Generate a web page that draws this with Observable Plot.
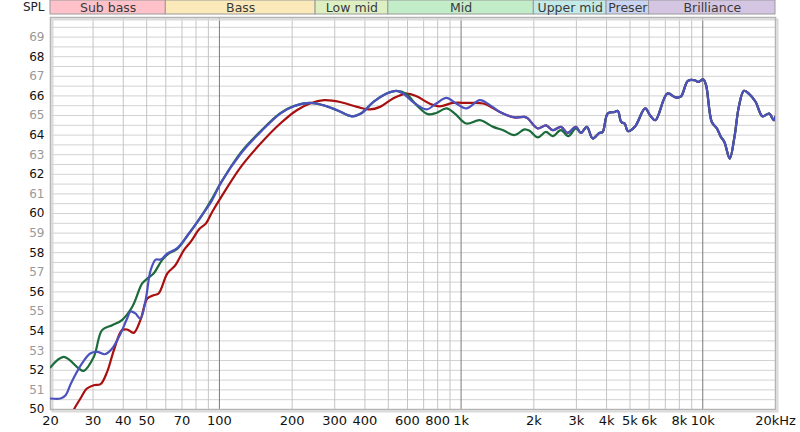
<!DOCTYPE html>
<html><head><meta charset="utf-8">
<script src="https://cdn.jsdelivr.net/npm/d3@7"></script>
<script src="https://cdn.jsdelivr.net/npm/@observablehq/plot@0.6"></script>
<style>
body{margin:0;background:#fff;font-family:"DejaVu Sans",sans-serif;}
#wrap{width:800px;height:432px;}
svg{display:block}
</style></head><body><div id="wrap"></div>
<script>
// Frequency bands (header)
const bandNames = ["Sub bass","Bass","Low mid","Mid","Upper mid","Preser","Brilliance"];
const bandLo = [20,60,250,500,2000,4000,6000];
const bandHi = [60,250,500,2000,4000,6000,20000];
const bandColors = ["#ffc2ca","#fbe9b9","#def0c2","#c3ecc9","#c3e9e8","#c9d3f2","#d4c6e2"];

// Axis ticks
const xTicks = [20,30,40,50,70,100,200,300,400,600,800,1000,2000,3000,4000,5000,6000,8000,10000,20000];
const xTickLabels = ["20","30","40","50","70","100","200","300","400","600","800","1k","2k","3k","4k","5k","6k","8k","10k","20kHz"];
const yTicksEven = [50,52,54,56,58,60,62,64,66,68];
const yTicksOdd = [51,53,55,57,59,61,63,65,67,69];

// Red series (low/mid part)
const freqRed = [24.3,25.0,26.6,28.3,30.2,32.2,34.3,36.6,39.5,41.5,44.2,47.1,50.3,53.4,56,60.9,65.7,71.3,76.0,82.9,87.9,93.3,101.8,122.7,148,178.6,209,237,271,316,371,420,462,523,594,654,740,815,926,1051,1234];
const dbRed   = [49.6,50.0,50.56,51.07,51.24,51.29,51.92,53.03,54.05,54.08,53.91,54.56,55.66,55.83,55.92,56.94,57.36,58.13,58.55,59.23,59.49,60.08,60.85,62.38,63.57,64.59,65.27,65.61,65.78,65.69,65.44,65.31,65.44,65.87,66.12,65.98,65.61,65.47,65.64,65.64,65.61];

// Green series (low/mid part)
const freqGreen = [20,22.7,26.2,27.4,30.2,32.7,36,39.5,43.6,47.9,50.3,53.4,57.9,61.8,67.1,73.9,83.9,92.5,101.8,122.7,148,178.6,203,237,268,307,353,385,434,492,540,594,654,729,789,869,942,1051,1196,1358,1493,1664,1829,1921,2076,2245,2393,2589,2780,2987];
const dbGreen   = [52.15,52.68,52.09,51.97,52.68,54.05,54.3,54.56,55.24,56.43,56.68,56.94,57.62,57.96,58.21,58.89,59.83,60.68,61.6,63.12,64.2,65.12,65.48,65.64,65.53,65.27,64.96,65.1,65.69,66.12,66.26,66.1,65.53,65.07,65.13,65.36,65.1,64.59,64.76,64.42,64.25,64.0,64.29,64.22,63.88,64.16,63.95,64.25,63.95,64.34];

// Blue series (low/mid part)
const freqBlue = [20,22,23.1,24.3,27,29.2,31.2,33.6,36,39,41.5,42.9,44.9,47.1,49.5,51.9,54.5,57.1,60.9,67.1,73.9,83.9,92.5,101.8,122.7,148,178.6,203,237,268,307,353,385,434,492,540,576,633,718,789,869,955,1051,1196,1316];
const dbBlue   = [50.56,50.56,50.73,51.33,52.35,52.86,52.94,52.82,53.11,53.88,54.64,55.0,54.9,54.64,55.58,57.1,57.65,57.65,57.96,58.25,58.89,59.85,60.6,61.6,63.06,64.16,65.1,65.47,65.64,65.53,65.27,64.96,65.1,65.69,66.12,66.26,66.12,65.69,65.31,65.61,65.9,65.61,65.36,65.78,65.53];

// Shared upper part (red & blue from ~1.4 kHz, green from ~3.1 kHz)
const freqHigh = [1447,1664,1829,1888,2076,2245,2393,2589,2759,2987,3130,3315,3502,3730,3853,4043,4311,4453,4598,4750,4907,5236,5775,6062,6368,7140,7740,8130,8680,9260,9570,10050,10320,10900,11440,11890,12290,12930,13530,14100,14800,15500,16540,17650,18840,19650,20000];
const dbHigh   = [65.18,64.9,64.93,64.85,64.34,64.5,64.25,64.42,64.11,64.42,64.11,64.42,63.83,64.11,64.16,65.1,65.18,65.23,64.67,64.59,64.2,64.42,65.36,65.0,64.76,66.12,65.92,65.98,66.77,66.8,66.71,66.84,66.55,64.67,64.34,63.91,63.65,62.8,63.91,65.44,66.26,66.12,65.7,64.96,65.1,64.76,64.95];

const seriesColors = {red:"#a81010", green:"#1b6b3a", blue:"#4b52be"};

const mk = (fs, ds) => fs.map((f, i) => ({f, db: ds[i]}));
const highFrom = (fmin) => mk(freqHigh, dbHigh).filter(d => d.f >= fmin);
const redData = mk(freqRed, dbRed).concat(highFrom(1447));
const greenData = mk(freqGreen, dbGreen).concat(highFrom(3130));
const blueData = mk(freqBlue, dbBlue).concat(highFrom(1447));

const bands = bandNames.map((name, i) => ({name, lo: bandLo[i], hi: bandHi[i], color: bandColors[i]}));

const xDomain = [20, 20000];
const labelMap = new Map(xTicks.map((t, i) => [t, xTickLabels[i]]));

// grid values
const minorX = [];
for (const dec of [10, 100, 1000, 10000]) for (let k = 2; k <= 9; k++) {
  const v = k * dec; if (v >= 20 && v <= 20000) minorX.push(v);
}
const decadeX = [100, 1000, 10000];
const halfDb = d3.range(50.5, 70, 0.5);

const header = Plot.plot({
  width: 800, height: 15,
  marginLeft: 50, marginRight: 25, marginTop: 0, marginBottom: 1,
  style: {fontFamily: "DejaVu Sans", background: "transparent"},
  x: {type: "log", domain: xDomain, axis: null},
  marks: [
    Plot.rect(bands, {x1: "lo", x2: "hi", fill: "color", stroke: "#9a9a9a", strokeWidth: 1}),
    Plot.text(bands, {x: d => Math.sqrt(d.lo * d.hi), text: "name", fontSize: 12.5, fill: "#3a3a3a"}),
    Plot.text(["SPL"], {frameAnchor: "left", dx: -6, textAnchor: "end", text: d => d, fontSize: 12, fill: "#222"})
  ]
});

const main = Plot.plot({
  width: 800, height: 417,
  marginLeft: 50, marginRight: 25, marginTop: 2, marginBottom: 23,
  style: {fontFamily: "DejaVu Sans", background: "#fff"},
  x: {type: "log", domain: xDomain, axis: null},
  y: {domain: [50, 70], axis: null},
  marks: [
    Plot.gridY(halfDb, {stroke: "#d2d2d2", strokeOpacity: 1}),
    Plot.gridX(minorX, {stroke: "#c4c4c4", strokeOpacity: 1}),
    Plot.gridX(decadeX, {stroke: "#7a7a7a", strokeOpacity: 1}),
    Plot.frame({stroke: "#dadada", strokeWidth: 2, dx: 2, dy: 2}),
    Plot.frame({stroke: "#b4b4b4", strokeWidth: 1.5}),
    Plot.text(xTicks, {x: d => d, text: d => labelMap.get(d), frameAnchor: "bottom", lineAnchor: "middle", dy: 11.5, fontSize: 13, fill: "#111"}),
    Plot.axisY(yTicksEven, {tickSize: 0, tickPadding: 6, fontSize: 12, fill: "#111", label: null}),
    Plot.axisY(yTicksOdd, {tickSize: 0, tickPadding: 6, fontSize: 12, fill: "#999", label: null}),
    Plot.line(redData, {x: "f", y: "db", stroke: seriesColors.red, strokeWidth: 2.2, curve: "catmull-rom", clip: true}),
    Plot.line(greenData, {x: "f", y: "db", stroke: seriesColors.green, strokeWidth: 2.2, curve: "catmull-rom", clip: true}),
    Plot.line(blueData, {x: "f", y: "db", stroke: seriesColors.blue, strokeWidth: 2.2, curve: "catmull-rom", clip: true})
  ]
});

const wrap = document.getElementById("wrap");
wrap.appendChild(header);
wrap.appendChild(main);
</script>
</body></html>
